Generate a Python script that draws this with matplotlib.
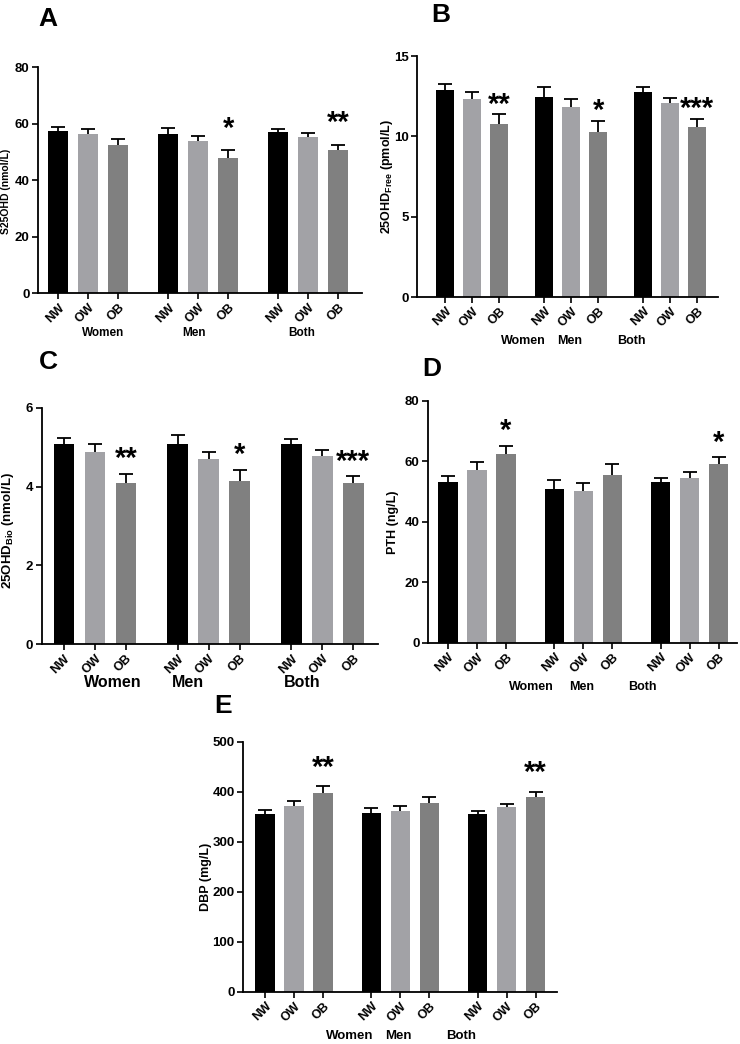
import numpy as np
import matplotlib
matplotlib.use("Agg")
import matplotlib.pyplot as plt

plt.rcParams["font.family"] = ["Liberation Sans", "DejaVu Sans"]
plt.rcParams["font.weight"] = "bold"
plt.rcParams["mathtext.default"] = "regular"

# data
groups = ["Women", "Men", "Both"]
bmi = ["NW", "OW", "OB"]

s25ohd = [57.2, 56.3, 52.5, 56.4, 53.8, 47.9, 56.9, 55.2, 50.7]
s25ohd_err = [1.4, 1.6, 2.0, 2.1, 1.8, 2.6, 1.3, 1.5, 1.8]
s25ohd_sig = ["", "", "", "", "", "*", "", "", "**"]

free = [12.89, 12.3, 10.79, 12.47, 11.8, 10.25, 12.79, 12.08, 10.58]
free_err = [0.37, 0.49, 0.61, 0.63, 0.5, 0.73, 0.31, 0.33, 0.52]
free_sig = ["", "", "**", "", "", "*", "", "", "***"]

bio = [5.08, 4.87, 4.08, 5.08, 4.69, 4.14, 5.08, 4.78, 4.08]
bio_err = [0.15, 0.2, 0.25, 0.23, 0.18, 0.29, 0.12, 0.14, 0.19]
bio_sig = ["", "", "**", "", "", "*", "", "", "***"]

pth = [53.3, 57.1, 62.3, 50.8, 50.2, 55.5, 53.0, 54.6, 59.0]
pth_err = [2.0, 2.5, 2.9, 3.0, 2.5, 3.5, 1.6, 1.7, 2.4]
pth_sig = ["", "", "*", "", "", "", "", "", "*"]

dbp = [355, 372, 398, 357, 361, 377, 355, 369, 390]
dbp_err = [8, 10, 13, 10, 10, 12, 7, 7, 10]
dbp_sig = ["", "", "**", "", "", "", "", "", "**"]

colors = ["#000000", "#a2a2a6", "#808080"]

# bar positions: 3 bars per group, wider gap between groups
x = np.array([g * 3.667 + i for g in range(3) for i in range(3)])

fig = plt.figure(figsize=(7.4, 10.44), dpi=100)


def panel(rect, letter, letter_xy, vals, errs, sig, ylabel, ylim, yticks,
          xlim, group_x, group_off, group_fs, ylab_xy, ylab_fs, star_off=0):
    ax = fig.add_axes(rect)
    ax.bar(x, vals, width=0.66, color=colors * 3, zorder=2)
    eb = ax.errorbar(x, vals, yerr=[np.zeros(9), errs], fmt="none",
                     ecolor="black", elinewidth=1.3, capsize=5, capthick=1.3,
                     zorder=3)
    eb[1][0].set_visible(False)
    for xi, v, e, s in zip(x, vals, errs, sig):
        if s:
            ax.annotate(s, xy=(xi, v + e), xytext=(0, star_off),
                        textcoords="offset points", ha="center",
                        va="baseline", fontsize=21, fontweight="bold")
    ax.set_ylim(*ylim)
    ax.set_yticks(yticks)
    ax.set_xlim(*xlim)
    ax.set_xticks(x)
    ax.set_xticklabels(bmi * 3, rotation=45, ha="right",
                       rotation_mode="anchor", fontsize=9, fontweight="bold")
    ax.tick_params(axis="y", labelsize=9.5, width=1.2, length=4, pad=2)
    ax.tick_params(axis="x", width=1.2, length=4, pad=2)
    for sp in ["top", "right"]:
        ax.spines[sp].set_visible(False)
    for sp in ["left", "bottom"]:
        ax.spines[sp].set_linewidth(1.3)
    ax.set_ylabel(ylabel, fontsize=ylab_fs, fontweight="bold")
    ax.yaxis.set_label_coords(*ylab_xy)
    for gx, g in zip(group_x, groups):
        ax.annotate(g, xy=(gx, 0), xycoords=("data", "axes fraction"),
                    xytext=(0, -group_off), textcoords="offset points",
                    ha="center", va="center", fontsize=group_fs,
                    fontweight="bold")
    fig.text(letter_xy[0] / 740, 1 - letter_xy[1] / 1044, letter,
             fontsize=19, fontweight="bold", ha="left", va="top")
    return ax


panel([0.0514, 0.7193, 0.438, 0.2165], "A", (38, 7), s25ohd, s25ohd_err,
      s25ohd_sig, "S25OHD (nmol/L)", (0, 80), [0, 20, 40, 60, 80],
      (-0.667, 10.13), [1.5, 4.53, 8.1], 29, 8.5, (-0.083, 0.45), 7.5, 10)

panel([0.5635, 0.7155, 0.4068, 0.2308], "B", (431, 3), free, free_err,
      free_sig, "25OHD$_\\mathregular{Free}$ (pmol/L)", (0, 15), [0, 5, 10, 15],
      (-1.04, 10.11), [2.89, 4.6, 6.9], 32, 9, (-0.074, 0.50), 9, 1)

panel([0.0563, 0.3831, 0.4545, 0.2263], "C", (39, 350), bio, bio_err,
      bio_sig, "25OHD$_\\mathregular{Bio}$ (nmol/L)", (0, 6), [0, 2, 4, 6],
      (-0.72, 10.13), [1.58, 4.0, 7.7], 28, 11.5, (-0.077, 0.48), 9.5, 4.5)

panel([0.5784, 0.3841, 0.4176, 0.2321], "D", (422, 357), pth, pth_err,
      pth_sig, "PTH (ng/L)", (0, 80), [0, 20, 40, 60, 80],
      (-0.69, 9.97), [2.86, 4.62, 6.69], 32, 9, (-0.093, 0.50), 9, 4.5)

panel([0.3284, 0.0501, 0.4243, 0.2395], "E", (214, 694), dbp, dbp_err,
      dbp_sig, "DBP (mg/L)", (0, 500), [0, 100, 200, 300, 400, 500],
      (-0.76, 10.07), [2.93, 4.59, 6.76], 32, 9.5, (-0.098, 0.46), 9, 7.5)

fig.savefig("out.png", dpi=100)
